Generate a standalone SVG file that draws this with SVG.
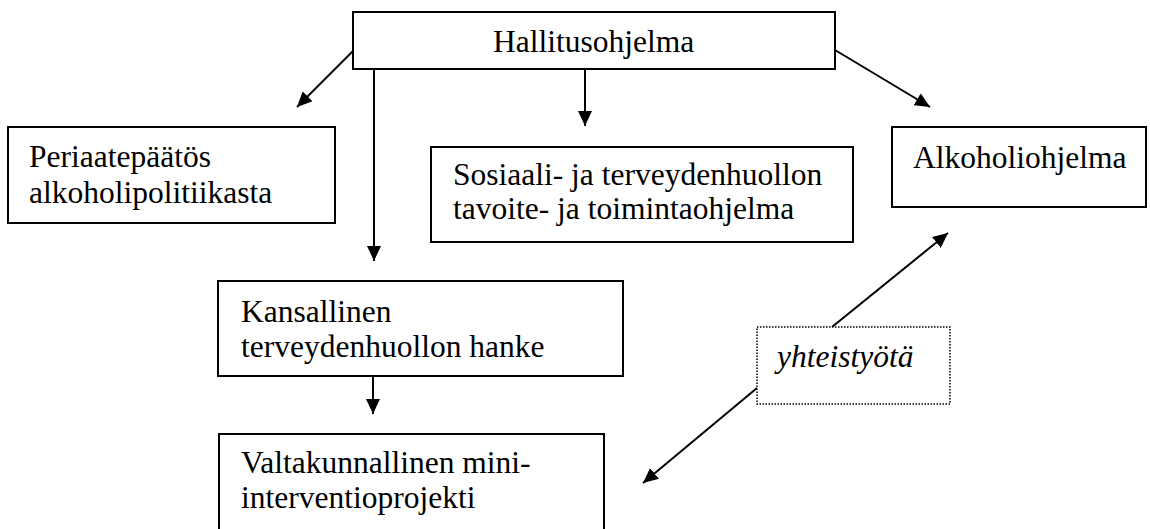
<svg xmlns="http://www.w3.org/2000/svg" width="1150" height="529" viewBox="0 0 1150 529">
<style>
.box{fill:#fff;stroke:#000;stroke-width:2}
.dot{fill:#fff;stroke:#000;stroke-width:1.5;stroke-dasharray:1.5 1.5}
.t{font-family:"Liberation Serif","Times New Roman",serif;font-size:31.5px;fill:#000}
.i{font-style:italic}
.c{stroke:#000;stroke-width:2;fill:none;marker-end:url(#ah)}
</style>
<defs>
<marker id="ah" markerUnits="userSpaceOnUse" markerWidth="16" markerHeight="14" refX="15" refY="7" orient="auto">
<path d="M0,0 L15,7 L0,14 z" fill="#000"/>
</marker>
</defs>
<rect width="1150" height="529" fill="#fff"/>
<g id="connectors">
<line class="c" x1="353" y1="51" x2="297" y2="107"/>
<line class="c" x1="374" y1="69" x2="374" y2="261"/>
<line class="c" x1="585" y1="69" x2="585" y2="126"/>
<line class="c" x1="835" y1="50" x2="930" y2="107"/>
<line class="c" x1="373" y1="376" x2="373" y2="414"/>
<line class="c" x1="832" y1="327" x2="948" y2="233"/>
<line class="c" x1="757" y1="388" x2="643" y2="483"/>
</g>
<g id="hallitusohjelma">
<rect class="box" x="353" y="12" width="482" height="57"/>
<text class="t" x="493" y="52">Hallitusohjelma</text>
</g>
<g id="periaatepaatos">
<rect class="box" x="8" y="127" width="327" height="96"/>
<text class="t" x="29" y="167">Periaatepäätös</text>
<text class="t" x="29" y="203">alkoholipolitiikasta</text>
</g>
<g id="sosiaali">
<rect class="box" x="431" y="147" width="422" height="95"/>
<text class="t" x="453" y="185">Sosiaali- ja terveydenhuollon</text>
<text class="t" x="453" y="219">tavoite- ja toimintaohjelma</text>
</g>
<g id="alkoholiohjelma">
<rect class="box" x="892" y="127" width="254" height="80"/>
<text class="t" x="913" y="168">Alkoholiohjelma</text>
</g>
<g id="kansallinen">
<rect class="box" x="218" y="281" width="405" height="95"/>
<text class="t" x="241" y="322">Kansallinen</text>
<text class="t" x="241" y="357">terveydenhuollon hanke</text>
</g>
<g id="valtakunnallinen">
<rect class="box" x="219" y="434" width="385" height="105"/>
<text class="t" x="241" y="473">Valtakunnallinen mini-</text>
<text class="t" x="241" y="508">interventioprojekti</text>
</g>
<g id="yhteistyota">
<rect class="dot" x="757" y="327" width="193" height="77"/>
<text class="t i" x="777" y="367">yhteistyötä</text>
</g>
</svg>
